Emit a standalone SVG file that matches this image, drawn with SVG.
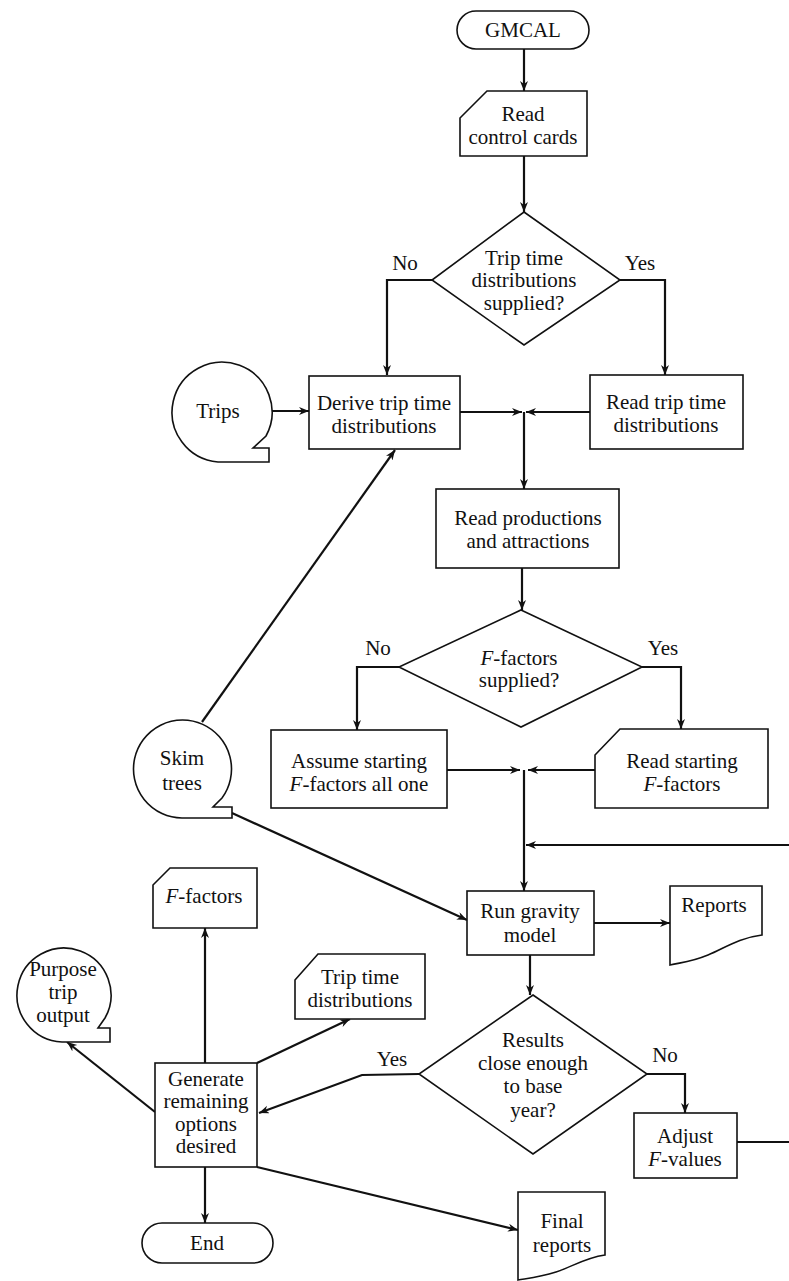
<svg xmlns="http://www.w3.org/2000/svg" width="789" height="1281" viewBox="0 0 789 1281" font-family="'Liberation Serif', 'DejaVu Serif', serif">
  <style>
    .shape { fill: #fff; stroke: #111; stroke-width: 1.6; }
    .conn { fill: none; stroke: #111; stroke-width: 2.2; }
    text { font-size: 21px; fill: #111; text-anchor: middle; }
    .it { font-style: italic; }
  </style>
  <defs>
    <marker id="arrow" markerUnits="userSpaceOnUse" markerWidth="12" markerHeight="10" refX="10" refY="4" orient="auto">
      <path d="M0,0 L10,4 L0,8 L3,4 Z" fill="#111"/>
    </marker>
  </defs>
  <rect width="789" height="1281" fill="#fff"/>

  <g id="connectors">
    <path class="conn" d="M524,49 V91" marker-end="url(#arrow)"/>
    <path class="conn" d="M524,156 V212" marker-end="url(#arrow)"/>
    <path class="conn" d="M432,280 H387 V375" marker-end="url(#arrow)"/>
    <path class="conn" d="M620,280 H665 V375" marker-end="url(#arrow)"/>
    <path class="conn" d="M268,411 H309" marker-end="url(#arrow)"/>
    <path class="conn" d="M460,412 H522" marker-end="url(#arrow)"/>
    <path class="conn" d="M590,412 H526" marker-end="url(#arrow)"/>
    <path class="conn" d="M524,412 V489" marker-end="url(#arrow)"/>
    <path class="conn" d="M522,568 V610" marker-end="url(#arrow)"/>
    <path class="conn" d="M399,667 H357 V730" marker-end="url(#arrow)"/>
    <path class="conn" d="M642,667 H681 V729" marker-end="url(#arrow)"/>
    <path class="conn" d="M447,770 H520" marker-end="url(#arrow)"/>
    <path class="conn" d="M595,770 H528" marker-end="url(#arrow)"/>
    <path class="conn" d="M524,770 V891" marker-end="url(#arrow)"/>
    <path class="conn" d="M789,845 H526" marker-end="url(#arrow)"/>
    <path class="conn" d="M737,1142 H789"/>
    <path class="conn" d="M594,923 H670" marker-end="url(#arrow)"/>
    <path class="conn" d="M530,955 V995" marker-end="url(#arrow)"/>
    <path class="conn" d="M647,1074 H685 V1113" marker-end="url(#arrow)"/>
    <path class="conn" d="M419,1074 L362,1075 L259,1113" marker-end="url(#arrow)"/>
    <path class="conn" d="M205,1063 V928" marker-end="url(#arrow)"/>
    <path class="conn" d="M257,1063 L350,1019" marker-end="url(#arrow)"/>
    <path class="conn" d="M155,1112 L67,1042" marker-end="url(#arrow)"/>
    <path class="conn" d="M205,1167 V1223" marker-end="url(#arrow)"/>
    <path class="conn" d="M257,1167 L518,1230" marker-end="url(#arrow)"/>
    <path class="conn" d="M202,722 L395,450" marker-end="url(#arrow)"/>
    <path class="conn" d="M232,813 L467,920" marker-end="url(#arrow)"/>
  </g>

  <g id="gmcal">
    <rect class="shape" x="457" y="11" width="132" height="38" rx="19"/>
    <text x="523" y="37">GMCAL</text>
  </g>

  <g id="read-control-cards">
    <path class="shape" d="M460,118 L487,91 H587 V156 H460 Z"/>
    <text x="523" y="121">Read</text>
    <text x="523" y="144">control cards</text>
  </g>

  <g id="trip-time-supplied">
    <path class="shape" d="M524,212 L620,280 L524,345 L432,280 Z"/>
    <text x="524" y="265">Trip time</text>
    <text x="524" y="287">distributions</text>
    <text x="524" y="310">supplied?</text>
    <text x="405" y="270">No</text>
    <text x="640" y="270">Yes</text>
  </g>

  <g id="trips">
    <path class="shape" d="M218,462 A50,50 0 1 1 266,436 L253,448 H269 V462 Z"/>
    <text x="218" y="418">Trips</text>
  </g>

  <g id="derive-trip-time">
    <rect class="shape" x="309" y="376" width="151" height="73"/>
    <text x="384" y="410">Derive trip time</text>
    <text x="384" y="433">distributions</text>
  </g>

  <g id="read-trip-time">
    <rect class="shape" x="590" y="375" width="153" height="74"/>
    <text x="666" y="409">Read trip time</text>
    <text x="666" y="432">distributions</text>
  </g>

  <g id="read-productions">
    <rect class="shape" x="436" y="489" width="183" height="79"/>
    <text x="528" y="525">Read productions</text>
    <text x="528" y="548">and attractions</text>
  </g>

  <g id="f-factors-supplied">
    <path class="shape" d="M521,610 L642,667 L521,727 L399,667 Z"/>
    <text x="519" y="665"><tspan class="it">F</tspan>-factors</text>
    <text x="519" y="687">supplied?</text>
    <text x="378" y="655">No</text>
    <text x="663" y="655">Yes</text>
  </g>

  <g id="assume-starting">
    <rect class="shape" x="271" y="730" width="176" height="78"/>
    <text x="359" y="768">Assume starting</text>
    <text x="359" y="791"><tspan class="it">F</tspan>-factors all one</text>
  </g>

  <g id="read-starting">
    <path class="shape" d="M595,755 L620,729 H768 V808 H595 Z"/>
    <text x="682" y="768">Read starting</text>
    <text x="682" y="791"><tspan class="it">F</tspan>-factors</text>
  </g>

  <g id="skim-trees">
    <path class="shape" d="M182,818 A49,49 0 1 1 222,798 L213,807 H232 V818 Z"/>
    <text x="182" y="765">Skim</text>
    <text x="182" y="790">trees</text>
  </g>

  <g id="run-gravity-model">
    <rect class="shape" x="467" y="891" width="127" height="64"/>
    <text x="530" y="918">Run gravity</text>
    <text x="530" y="942">model</text>
  </g>

  <g id="reports">
    <path class="shape" d="M670,886 H762 V935 C738,938 725,948 708,955 S684,962 670,965 Z"/>
    <text x="714" y="912">Reports</text>
  </g>

  <g id="results-close">
    <path class="shape" d="M533,995 L647,1074 L533,1154 L419,1074 Z"/>
    <text x="533" y="1047">Results</text>
    <text x="533" y="1070">close enough</text>
    <text x="533" y="1093">to base</text>
    <text x="533" y="1117">year?</text>
    <text x="392" y="1066">Yes</text>
    <text x="665" y="1062">No</text>
  </g>

  <g id="adjust-f-values">
    <rect class="shape" x="634" y="1113" width="103" height="65"/>
    <text x="685" y="1143">Adjust</text>
    <text x="685" y="1166"><tspan class="it">F</tspan>-values</text>
  </g>

  <g id="f-factors-out">
    <path class="shape" d="M153,885 L170,868 H257 V928 H153 Z"/>
    <text x="204" y="903"><tspan class="it">F</tspan>-factors</text>
  </g>

  <g id="trip-time-out">
    <path class="shape" d="M295,980 L318,954 H425 V1019 H295 Z"/>
    <text x="360" y="984">Trip time</text>
    <text x="360" y="1007">distributions</text>
  </g>

  <g id="purpose-trip-output">
    <path class="shape" d="M62,1042 A47,47 0 1 1 105,1018 L98,1028 H110 V1042 Z"/>
    <text x="63" y="976">Purpose</text>
    <text x="63" y="999">trip</text>
    <text x="63" y="1022">output</text>
  </g>

  <g id="generate-remaining">
    <rect class="shape" x="155" y="1063" width="102" height="104"/>
    <text x="206" y="1086">Generate</text>
    <text x="206" y="1108">remaining</text>
    <text x="206" y="1131">options</text>
    <text x="206" y="1153">desired</text>
  </g>

  <g id="end">
    <rect class="shape" x="142" y="1223" width="131" height="40" rx="20"/>
    <text x="207" y="1250">End</text>
  </g>

  <g id="final-reports">
    <path class="shape" d="M518,1192 H605 V1255 C584,1258 572,1267 556,1272 S530,1278 518,1280 Z"/>
    <text x="562" y="1228">Final</text>
    <text x="562" y="1252">reports</text>
  </g>
</svg>
